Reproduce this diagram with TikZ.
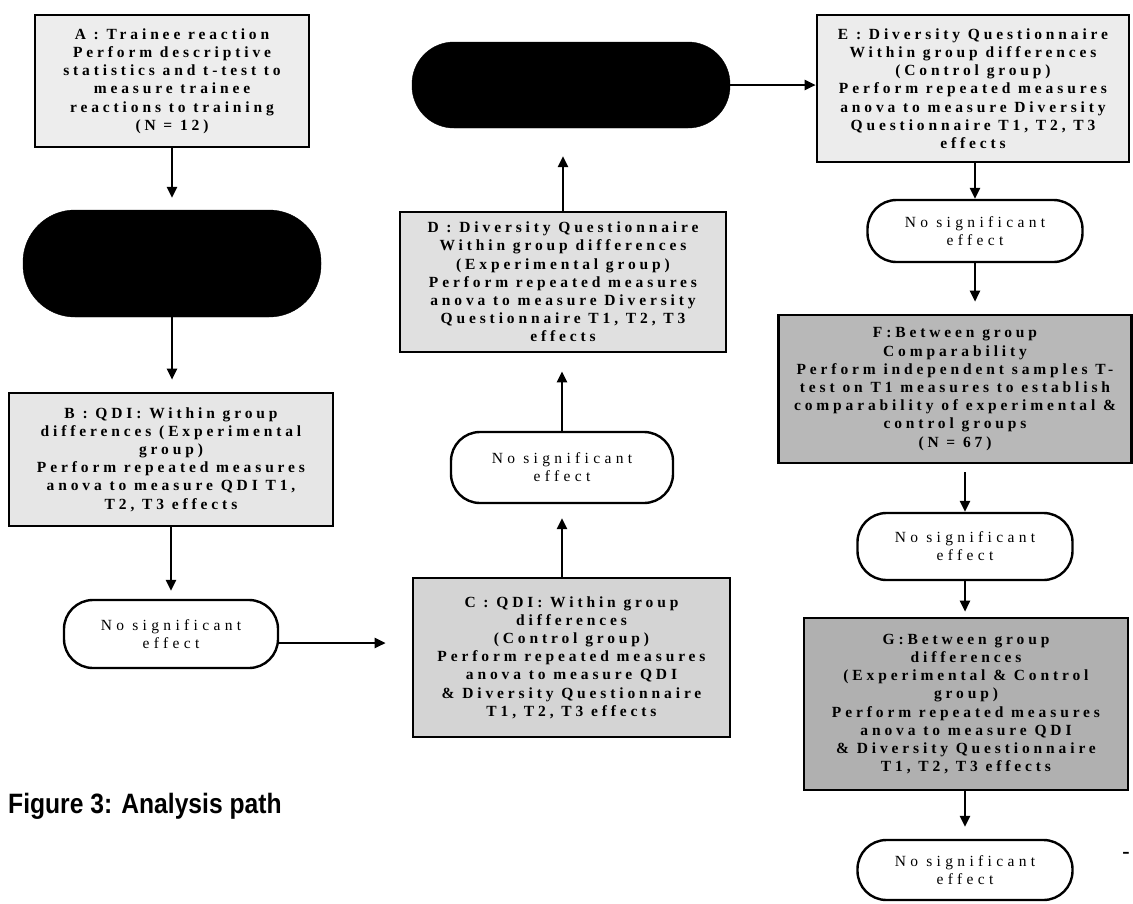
\documentclass[tikz,border=0pt]{standalone}
\usepackage{fontspec}
\setmainfont{Liberation Serif}
\newfontfamily\bxf[LetterSpace=25]{Liberation Serif}
\newfontfamily\pxf[LetterSpace=28]{Liberation Serif}
\newfontfamily\capf{Liberation Sans}
\usetikzlibrary{arrows.meta}
\definecolor{fillA}{HTML}{EDEDED}
\definecolor{fillB}{HTML}{E6E6E6}
\definecolor{fillC}{HTML}{D4D4D4}
\definecolor{fillD}{HTML}{E0E0E0}
\definecolor{fillE}{HTML}{ECECEC}
\definecolor{fillF}{HTML}{B8B8B8}
\definecolor{fillG}{HTML}{B0B0B0}
\begin{document}
\begin{tikzpicture}[x=1pt,y=-1pt,
  box/.style={draw=black, line width=2.6pt, inner sep=0pt, align=center,
    font=\bxf\bfseries\fontsize{15.5}{18.2}\selectfont},
  pill/.style={draw=black, line width=2.4pt, fill=white, rounded corners=29pt,
    inner sep=0pt, align=center, minimum width=215pt,
    font=\pxf\fontsize{15.5}{18.2}\selectfont},
  blackpill/.style={draw=black, fill=black, inner sep=0pt},
  arr/.style={line width=2.4pt, -{Triangle[length=11pt,width=10pt]}},
]
\useasboundingbox (0,0) rectangle (1133,903);

% column 1
\node[box, fill=fillA, minimum width=274pt, minimum height=132pt] (A) at (172,81)
  {A : Trainee reaction\\Perform descriptive\\statistics and t-test to\\measure trainee\\reactions to training\\(N = 12)};
\node[blackpill, rounded corners=52pt, minimum width=298pt, minimum height=107pt] (BP1) at (172,263.5) {};
\node[box, fill=fillB, minimum width=324pt, minimum height=133pt] (B) at (171,459.5)
  {B : QDI: Within group\\differences (Experimental\\group)\\Perform repeated measures\\anova to measure QDI T1,\\T2, T3 effects};
\node[pill, minimum width=214pt, minimum height=68pt] (P2) at (171,634) {No significant\\effect};

% column 2
\node[blackpill, rounded corners=42pt, minimum width=318pt, minimum height=86pt] (BP2) at (571,85) {};
\node[box, fill=fillD, minimum width=326pt, minimum height=140pt] (D) at (563,282)
  {D : Diversity Questionnaire\\Within group differences\\(Experimental group)\\Perform repeated measures\\anova to measure Diversity\\Questionnaire T1, T2, T3\\effects};
\node[pill, minimum width=222pt, minimum height=71pt] (PM) at (562,467.5) {No significant\\effect};
\node[box, fill=fillC, minimum width=317pt, minimum height=159pt] (C) at (571.5,657.5)
  {C : QDI: Within group\\differences\\(Control group)\\Perform repeated measures\\anova to measure QDI\\\& Diversity Questionnaire\\T1, T2, T3 effects};

% column 3
\node[box, fill=fillE, minimum width=312pt, minimum height=147pt] (E) at (973,88.5)
  {E : Diversity Questionnaire\\Within group differences\\(Control group)\\Perform repeated measures\\anova to measure Diversity\\Questionnaire T1, T2, T3\\effects};
\node[pill, minimum height=62pt] (P3) at (975,231) {No significant\\effect};
\node[box, fill=fillF, minimum width=353pt, minimum height=148pt] (F) at (955,389)
  {F:Between group\\Comparability\\Perform independent samples T-\\test on T1 measures to establish\\comparability of experimental \&\\control groups\\(N = 67)};
\node[pill, minimum height=67pt] (P4) at (965,546.5) {No significant\\effect};
\node[box, fill=fillG, minimum width=324pt, minimum height=172pt] (G) at (966,704)
  {G:Between group\\differences\\(Experimental \& Control\\group)\\Perform repeated measures\\anova to measure QDI\\\& Diversity Questionnaire\\T1, T2, T3 effects};
\node[pill, minimum height=60pt] (P5) at (965,870) {No significant\\effect};
\node[font=\bfseries\fontsize{22}{22}\selectfont, inner sep=0pt] (dash) at (1126,855) {-};

% caption
\node[anchor=base west, inner sep=0pt, font=\capf\bfseries\fontsize{28}{32}\selectfont] (cap) at (8,813)
  {\scalebox{0.88}[1]{Figure 3: Analysis path}};

% connectors
\draw[arr, shorten >=12pt] (A.south) -- (BP1.north);
\draw[arr, shorten >=12pt] (BP1.south) -- (BP1.south |- B.north);
\draw[arr, shorten >=8pt] (B.south -| P2.north) -- (P2.north);
\draw[arr, shorten >=26pt] ([yshift=-9pt]P2.east) -- ([yshift=-9pt]P2.east -| C.west);
\draw[arr, shorten >=14pt] (C.north -| PM.south) -- (PM.south);
\draw[arr, shorten >=18pt] (PM.north) -- (PM.north |- D.south);
\draw[arr, shorten >=28pt] (D.north) -- (D.north |- BP2.south);
\draw[arr] (BP2.east) -- (BP2.east -| E.west);
\draw[arr] (E.south -| P3.north) -- (P3.north);
\draw[arr, shorten >=12pt] (P3.south) -- (P3.south |- F.north);
\draw[arr, shorten <=8pt] (F.south -| P4.north) -- (P4.north);
\draw[arr, shorten >=5pt] (P4.south) -- (P4.south |- G.north);
\draw[arr, shorten >=12pt] (G.south -| P5.north) -- (P5.north);
\end{tikzpicture}
\end{document}
